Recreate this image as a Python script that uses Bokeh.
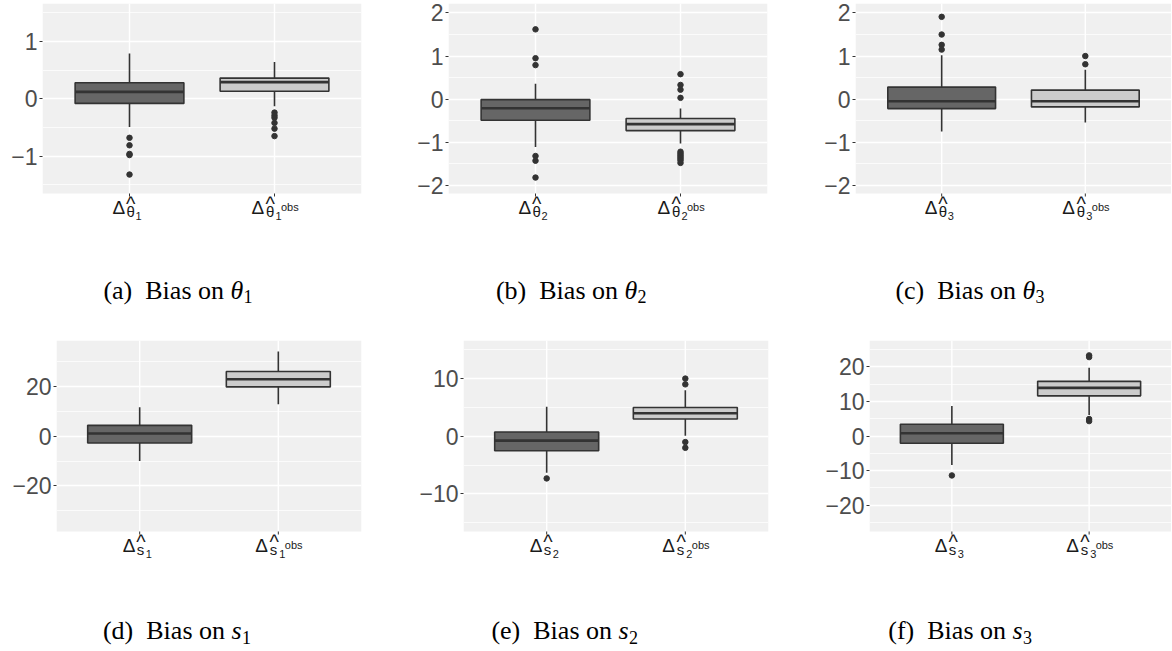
from bokeh.plotting import figure
from bokeh.layouts import column, row
from bokeh.models import Range1d, FixedTicker, CustomJSTickFormatter
from bokeh.core.properties import value
from bokeh.embed import file_html
from bokeh.resources import INLINE

# ---------------- data ----------------
categories = ["hat", "obs"]          # Δ_hat  and  Δ^obs

# (a) theta_1
th1_lower = [-0.49, -0.13]
th1_q1 = [-0.08, 0.13]
th1_median = [0.12, 0.29]
th1_q3 = [0.28, 0.36]
th1_upper = [0.79, 0.64]
th1_out_hat = [-0.68, -0.81, -0.96, -0.98, -1.32]
th1_out_obs = [-0.24, -0.29, -0.33, -0.42, -0.52, -0.65]

# (b) theta_2
th2_lower = [-1.11, -1.03]
th2_q1 = [-0.49, -0.73]
th2_median = [-0.21, -0.58]
th2_q3 = [-0.01, -0.45]
th2_upper = [0.36, -0.22]
th2_out_hat = [1.62, 0.95, 0.79, -1.32, -1.43, -1.82]
th2_out_obs = [0.58, 0.33, 0.22, 0.03, -1.22, -1.26, -1.30, -1.34, -1.38, -1.42, -1.48]

# (c) theta_3
th3_lower = [-0.75, -0.54]
th3_q1 = [-0.22, -0.18]
th3_median = [-0.05, -0.05]
th3_q3 = [0.28, 0.21]
th3_upper = [1.02, 0.68]
th3_out_hat = [1.91, 1.50, 1.26, 1.15]
th3_out_obs = [1.00, 0.81]

# (d) s_1
s1_lower = [-10.0, 12.9]
s1_q1 = [-2.7, 19.9]
s1_median = [1.1, 23.0]
s1_q3 = [4.4, 26.1]
s1_upper = [11.7, 34.2]
s1_out_hat = []
s1_out_obs = []

# (e) s_2
s2_lower = [-6.3, 0.1]
s2_q1 = [-2.5, 3.0]
s2_median = [-0.75, 4.0]
s2_q3 = [0.75, 5.0]
s2_upper = [5.1, 8.0]
s2_out_hat = [-7.3]
s2_out_obs = [10.0, 9.0, -1.0, -2.0]

# (f) s_3
s3_lower = [-8.4, 6.1]
s3_q1 = [-2.1, 11.6]
s3_median = [0.8, 13.9]
s3_q3 = [3.4, 15.8]
s3_upper = [8.7, 19.7]
s3_out_hat = [-11.4]
s3_out_obs = [23.3, 22.8, 4.9, 4.3]

# axis ranges / ticks
yr_a = (-1.65, 1.66); ticks_a = [-1, 0, 1]; minor_a = [-1.5, -0.5, 0.5, 1.5]
yr_b = (-2.19, 2.22); ticks_b = [-2, -1, 0, 1, 2]; minor_b = [-1.5, -0.5, 0.5, 1.5]
yr_c = (-2.19, 2.22); ticks_c = [-2, -1, 0, 1, 2]; minor_c = [-1.5, -0.5, 0.5, 1.5]
yr_d = (-38.4, 38.6); ticks_d = [-20, 0, 20]; minor_d = [-30, -10, 10, 30]
yr_e = (-16.5, 16.6); ticks_e = [-10, 0, 10]; minor_e = [-15, -5, 5, 15]
yr_f = (-27.6, 27.6); ticks_f = [-20, -10, 0, 10, 20]; minor_f = [-25, -15, -5, 5, 15, 25]

captions = ["(a)", "(b)", "(c)", "(d)", "(e)", "(f)"]
cap_symbols = ["θ", "θ", "θ", "s", "s", "s"]
cap_indices = ["1", "2", "3", "1", "2", "3"]

# ---------------- styling ----------------
FILLS = ["#666666", "#cccccc"]
EDGE = "#333333"
PANEL_BG = "#f0f0f0"
SANS = "Liberation Sans"
SERIF = "Liberation Serif"

fmt = CustomJSTickFormatter(code="""
    const v = Math.round(tick*100)/100;
    return v < 0 ? "\u2212" + String(Math.abs(v)) : String(v);
""")


def make_subfigure(lower, q1, med, q3, upper, out_hat, out_obs, yr, ticks, minor,
                   sym, idx, cap, geom, strip_h, cap_c, cap_b):
    bl, fw, br, bt, fh = geom
    xs = [i + 1 for i in range(len(categories))]
    x_lo, x_hi = 0.4, len(categories) + 0.6
    upp = (yr[1] - yr[0]) / fh          # data units per pixel (y)
    xpp = (x_hi - x_lo) / fw            # data units per pixel (x)
    y_bottom = yr[0] - strip_h * upp    # frame extends below the panel for labels + caption

    p = figure(frame_width=fw, frame_height=fh + strip_h, title=None,
               x_range=Range1d(x_lo, x_hi), y_range=Range1d(y_bottom, yr[1]),
               output_backend="svg", toolbar_location=None, x_axis_type=None,
               min_border_left=bl, min_border_right=br,
               min_border_top=bt, min_border_bottom=0)
    p.background_fill_color = "white"
    p.border_fill_color = "white"
    p.outline_line_color = None
    p.xgrid.visible = False

    # grey panel
    p.quad(left=[x_lo], right=[x_hi], bottom=[yr[0]], top=[yr[1]],
           fill_color=PANEL_BG, line_color=None, level="image")
    # horizontal grid (spans frame width == panel width)
    p.ygrid.ticker = FixedTicker(ticks=ticks, minor_ticks=minor)
    p.ygrid.grid_line_color = "white"
    p.ygrid.grid_line_width = 1.4
    p.ygrid.minor_grid_line_color = "white"
    p.ygrid.minor_grid_line_width = 0.7
    # vertical grid at categories (inside the panel only)
    p.segment(x0=xs, y0=[yr[0]] * len(xs), x1=xs, y1=[yr[1]] * len(xs),
              line_color="white", line_width=1.4, level="underlay")

    # boxplots
    half = 0.375
    p.segment(x0=xs, y0=q3, x1=xs, y1=upper, line_color=EDGE, line_width=1.6)
    p.segment(x0=xs, y0=q1, x1=xs, y1=lower, line_color=EDGE, line_width=1.6)
    p.vbar(x=xs, width=2 * half, bottom=q1, top=q3, fill_color=FILLS,
           line_color=EDGE, line_width=1.6)
    p.segment(x0=[x - half for x in xs], y0=med, x1=[x + half for x in xs], y1=med,
              line_color=EDGE, line_width=2.6)
    ox = [xs[0]] * len(out_hat) + [xs[1]] * len(out_obs)
    oy = list(out_hat) + list(out_obs)
    if oy:
        p.scatter(x=ox, y=oy, size=5.5, color=EDGE)

    # y axis
    p.yaxis.ticker = FixedTicker(ticks=ticks)
    p.yaxis.formatter = fmt
    p.yaxis.major_label_text_font = SANS
    p.yaxis.major_label_text_font_size = "23px"
    p.yaxis.major_label_text_color = "#4d4d4d"
    p.yaxis.major_label_standoff = 2
    p.yaxis.major_tick_out = 3
    p.yaxis.major_tick_in = 0
    p.yaxis.major_tick_line_color = EDGE
    p.yaxis.minor_tick_line_color = None
    p.yaxis.axis_line_color = None

    # x tick marks (3 px below the panel)
    p.segment(x0=xs, y0=[yr[0]] * len(xs), x1=xs, y1=[yr[0] - 3 * upp] * len(xs),
              line_color=EDGE, line_width=1)

    xl = "#1a1a1a"

    def t(x, dx, dy, text, size, align="left", style="normal", font=SANS, color=xl):
        # dx: pixels right of x ; dy: baseline, pixels below the panel's bottom edge
        yc = dy - 0.345 * size          # vertical centre of the text
        p.text(x=[x + dx * xpp], y=[yr[0] - yc * upp], text=[text],
               text_font=value(font), text_font_size=f"{size}px",
               text_font_style=style, text_align=align,
               text_baseline="middle", text_color=color)

    x1, x2 = xs
    # Δ_{hat sym_idx}
    t(x1, -17, 20.3, "Δ", 19)
    t(x1, -3, 22.8, sym, 15)
    t(x1, 1.3, 17, "^", 20, align="center")
    t(x1, 6, 26.5, idx, 11)
    # Δ_{hat sym_idx}^{obs}
    t(x2, -23, 20.3, "Δ", 19)
    t(x2, -8.5, 22.8, sym, 15)
    t(x2, -4.2, 17, "^", 20, align="center")
    t(x2, 1, 26.5, idx, 11)
    t(x2, 6.5, 17.7, "obs", 11)

    # caption "(x)  Bias on sym_idx"
    anchor = cap_c + 52
    sym_w = 13 if sym == "θ" else 10.5
    t(x_lo, anchor, cap_b, cap + "\u2002Bias on\u00a0", 26, align="right", font=SERIF, color="black")
    t(x_lo, anchor, cap_b, sym, 26, style="italic", font=SERIF, color="black")
    t(x_lo, anchor + sym_w, cap_b + 4, idx, 18, font=SERIF, color="black")
    return p


# geometry: (border_left, frame_w, border_right, border_top, panel_h)
G = [
    (42, 319, 44, 3, 190),
    (43, 319, 43, 3, 190),
    (45, 316, 0, 3, 190),
    (56, 305, 44, 4, 191),
    (58, 305, 42, 4, 191),
    (59, 302, 0, 4, 191),
]
STRIP_H = [143, 143, 143, 119, 119, 119]
CAP_C = [136, 124, 115, 123, 103, 91]
CAP_B = [105.5, 105.5, 105.5, 108.0, 108.0, 108.0]

data = [
    (th1_lower, th1_q1, th1_median, th1_q3, th1_upper, th1_out_hat, th1_out_obs, yr_a, ticks_a, minor_a),
    (th2_lower, th2_q1, th2_median, th2_q3, th2_upper, th2_out_hat, th2_out_obs, yr_b, ticks_b, minor_b),
    (th3_lower, th3_q1, th3_median, th3_q3, th3_upper, th3_out_hat, th3_out_obs, yr_c, ticks_c, minor_c),
    (s1_lower, s1_q1, s1_median, s1_q3, s1_upper, s1_out_hat, s1_out_obs, yr_d, ticks_d, minor_d),
    (s2_lower, s2_q1, s2_median, s2_q3, s2_upper, s2_out_hat, s2_out_obs, yr_e, ticks_e, minor_e),
    (s3_lower, s3_q1, s3_median, s3_q3, s3_upper, s3_out_hat, s3_out_obs, yr_f, ticks_f, minor_f),
]

figs = [make_subfigure(*data[i], cap_symbols[i], cap_indices[i], captions[i], G[i],
                       STRIP_H[i], CAP_C[i], CAP_B[i]) for i in range(6)]

layout = column(row(*figs[:3]), row(*figs[3:]))
open("out.html", "w").write(file_html(layout, INLINE))
